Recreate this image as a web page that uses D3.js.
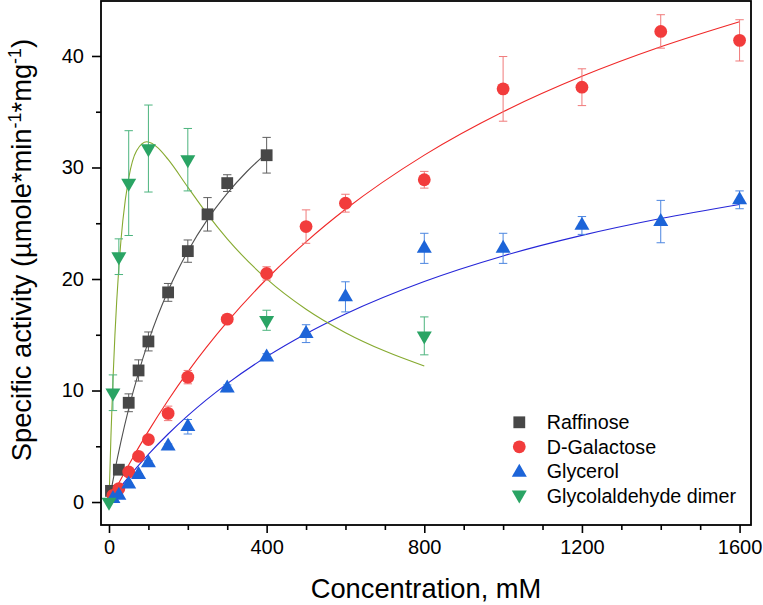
<!DOCTYPE html>
<html>
<head>
<meta charset="utf-8">
<script src="https://cdn.jsdelivr.net/npm/d3@7"></script>
<style>
  html, body { margin: 0; padding: 0; background: #fff; }
  svg { display: block; }
  text { font-family: "Liberation Sans", Arial, sans-serif; fill: #000; }
</style>
</head>
<body>
<svg id="chart" width="763" height="605"></svg>
<script>
// ---- data ----
const seriesNames = ["Raffinose", "D-Galactose", "Glycerol", "Glycolaldehyde dimer"];

const raffinoseConc = [5, 25, 50, 75, 100, 150, 200, 250, 300, 400];
const raffinoseAct  = [1.0, 2.9, 8.9, 11.8, 14.4, 18.8, 22.5, 25.8, 28.6, 31.1];
const raffinoseErr  = [0.2, 0.2, 0.8, 0.95, 0.85, 0.8, 1.0, 1.5, 0.75, 1.6];

const galactoseConc = [10, 25, 50, 75, 100, 150, 200, 300, 400, 500, 600, 800, 1000, 1200, 1400, 1600];
const galactoseAct  = [0.6, 1.2, 2.7, 4.1, 5.6, 7.95, 11.2, 16.4, 20.5, 24.7, 26.8, 28.9, 37.05, 37.2, 42.2, 41.4];
const galactoseErr  = [0.1, 0.2, 0.2, 0.2, 0.3, 0.65, 0.6, 0.3, 0.6, 1.5, 0.8, 0.75, 2.9, 1.65, 1.5, 1.85];

const glycerolConc = [10, 25, 50, 75, 100, 150, 200, 300, 400, 500, 600, 800, 1000, 1200, 1400, 1600];
const glycerolAct  = [0.3, 0.6, 1.6, 2.45, 3.5, 5.0, 6.75, 10.2, 13.0, 15.1, 18.4, 22.75, 22.75, 24.8, 25.15, 27.1];
const glycerolErr  = [0.1, 0.1, 0.1, 0.1, 0.2, 0.2, 0.65, 0.3, 0.3, 0.8, 1.35, 1.35, 1.35, 0.8, 1.9, 0.8];

const glycolConc = [0, 10, 25, 50, 100, 200, 400, 800];
const glycolAct  = [0.0, 9.8, 22.0, 28.6, 31.7, 30.7, 16.3, 14.9];
const glycolErr  = [0, 1.6, 1.6, 4.7, 3.9, 2.8, 0.9, 1.7];

// fitted curves, points
const raffinoseFitX = [5, 15, 30, 50, 75, 100, 150, 200, 250, 300, 350, 400];
const raffinoseFitY = [0.98, 2.84, 5.37, 8.37, 11.61, 14.40, 18.94, 22.49, 25.35, 27.68, 29.64, 31.29];

const galactoseFitX = [10, 25, 50, 100, 150, 200, 300, 400, 500, 600, 800, 1000, 1200, 1400, 1600];
const galactoseFitY = [0.69, 1.71, 3.33, 6.36, 9.13, 11.67, 16.15, 20.0, 23.33, 26.25, 31.11, 35.0, 38.18, 40.83, 43.08];

const glycerolFitX = [10, 25, 50, 100, 150, 200, 300, 400, 500, 600, 800, 1000, 1200, 1400, 1600];
const glycerolFitY = [0.47, 1.16, 2.26, 4.28, 6.10, 7.75, 10.62, 13.04, 15.10, 16.87, 19.78, 22.07, 23.91, 25.42, 26.69];

const glycolFitX = [0, 5, 10, 15, 25, 35, 50, 70, 96, 125, 150, 200, 250, 300, 400, 500, 600, 700, 800];
const glycolFitY = [0, 5.99, 10.90, 14.95, 21.05, 25.20, 29.05, 31.51, 32.31, 31.74, 30.72, 28.24, 25.79, 23.60, 20.01, 17.29, 15.19, 13.54, 12.20];

const xMajorTicks = [0, 400, 800, 1200, 1600];
const xMinorTicks = [100, 200, 300, 500, 600, 700, 900, 1000, 1100, 1300, 1400, 1500];
const yMajorTicks = [0, 10, 20, 30, 40];
const yMinorTicks = [5, 15, 25, 35];

// ---- layout ----
const svg = d3.select("#chart");
const L = 101, R = 751, T = 1, B = 525;
const x = d3.scaleLinear().domain([-20.3, 1629]).range([L, R]);
const y = d3.scaleLinear().domain([-2.06, 44.93]).range([B, T]);

const series = [
  { name: seriesNames[0], cx: raffinoseConc, cy: raffinoseAct, ce: raffinoseErr, fx: raffinoseFitX, fy: raffinoseFitY,
    marker: "#474747", err: "#5e5e5e", line: "#505050", sym: "square" },
  { name: seriesNames[1], cx: galactoseConc, cy: galactoseAct, ce: galactoseErr, fx: galactoseFitX, fy: galactoseFitY,
    marker: "#f23c3c", err: "#f07a7a", line: "#f02828", sym: "circle" },
  { name: seriesNames[2], cx: glycerolConc, cy: glycerolAct, ce: glycerolErr, fx: glycerolFitX, fy: glycerolFitY,
    marker: "#1c64d8", err: "#4c86e0", line: "#2626d8", sym: "up" },
  { name: seriesNames[3], cx: glycolConc, cy: glycolAct, ce: glycolErr, fx: glycolFitX, fy: glycolFitY,
    marker: "#2aa464", err: "#4cb47e", line: "#86aa30", sym: "down" }
];

function drawSym(g, type, cxp, cyp, color) {
  if (type === "square") {
    g.append("rect").attr("x", cxp - 5.9).attr("y", cyp - 5.9).attr("width", 11.8).attr("height", 11.8).attr("fill", color);
  } else if (type === "circle") {
    g.append("circle").attr("cx", cxp).attr("cy", cyp).attr("r", 6.4).attr("fill", color);
  } else {
    const s = 15, h = s * Math.sqrt(3) / 2;
    const dir = type === "up" ? 1 : -1;
    const pts = [[cxp, cyp - dir * h * 2 / 3], [cxp - s / 2, cyp + dir * h / 3], [cxp + s / 2, cyp + dir * h / 3]];
    g.append("path").attr("d", "M" + pts.map(p => p.join(",")).join("L") + "Z").attr("fill", color);
  }
}

const plot = svg.append("g");

// fit lines
const lineGen = d3.line().x(d => x(d[0])).y(d => y(d[1])).curve(d3.curveMonotoneX);
series.forEach(s => {
  plot.append("path")
    .datum(s.fx.map((v, i) => [v, s.fy[i]]))
    .attr("d", lineGen)
    .attr("fill", "none")
    .attr("stroke", s.line)
    .attr("stroke-width", 1.1);
});

// error bars
series.forEach(s => {
  const g = plot.append("g");
  s.cx.forEach((cv, i) => {
    const e = s.ce[i];
    if (!e) return;
    const xp = x(cv), y1 = y(s.cy[i] + e), y2 = y(s.cy[i] - e);
    g.append("line").attr("x1", xp).attr("x2", xp).attr("y1", y1).attr("y2", y2).attr("stroke", s.err).attr("stroke-width", 1);
    g.append("line").attr("x1", xp - 4.2).attr("x2", xp + 4.2).attr("y1", y1).attr("y2", y1).attr("stroke", s.err).attr("stroke-width", 1);
    g.append("line").attr("x1", xp - 4.2).attr("x2", xp + 4.2).attr("y1", y2).attr("y2", y2).attr("stroke", s.err).attr("stroke-width", 1);
  });
});

// markers
series.forEach(s => {
  const g = plot.append("g");
  s.cx.forEach((cv, i) => drawSym(g, s.sym, x(cv), y(s.cy[i]), s.marker));
});

// ---- axes ----
const fontTick = 20;
const xAxisMajor = d3.axisBottom(x).tickValues(xMajorTicks).tickSize(8).tickPadding(7).tickFormat(d3.format("d"));
const xAxisMinor = d3.axisBottom(x).tickValues(xMinorTicks).tickSize(5).tickFormat("");
const yAxisMajor = d3.axisLeft(y).tickValues(yMajorTicks).tickSize(9).tickPadding(8).tickFormat(d3.format("d"));
const yAxisMinor = d3.axisLeft(y).tickValues(yMinorTicks).tickSize(5).tickFormat("");

function styleAxis(g) {
  g.select(".domain").remove();
  g.selectAll(".tick line").attr("stroke", "#000").attr("stroke-width", 1.6);
  g.selectAll(".tick text").attr("font-size", fontTick).attr("font-family", "Liberation Sans, Arial, sans-serif").attr("fill", "#000");
}
svg.append("g").attr("transform", `translate(0,${B})`).call(xAxisMajor).call(styleAxis);
svg.append("g").attr("transform", `translate(0,${B})`).call(xAxisMinor).call(styleAxis);
svg.append("g").attr("transform", `translate(${L},0)`).call(yAxisMajor).call(styleAxis);
svg.append("g").attr("transform", `translate(${L},0)`).call(yAxisMinor).call(styleAxis);

// frame
svg.append("rect").attr("x", L).attr("y", T).attr("width", R - L).attr("height", B - T)
  .attr("fill", "none").attr("stroke", "#000").attr("stroke-width", 1.8);

// axis titles
svg.append("text").attr("x", (L + R) / 2).attr("y", 598).attr("text-anchor", "middle")
  .attr("font-size", 27.3).text("Concentration, mM");

const yt = svg.append("text").attr("transform", "translate(31,250) rotate(-90)")
  .attr("text-anchor", "middle").attr("font-size", 27.3);
yt.append("tspan").text("Specific activity (\u00b5mole*min");
yt.append("tspan").attr("font-size", 18).attr("dy", -10).text("-1");
yt.append("tspan").attr("dy", 10).text("*mg");
yt.append("tspan").attr("font-size", 18).attr("dy", -10).text("-1");
yt.append("tspan").attr("dy", 10).text(")");

// legend
const legX = 519.3, legY0 = 422.3, legDy = 24.5;
series.forEach((s, i) => {
  const g = svg.append("g");
  const yy = legY0 + i * legDy;
  drawSym(g, s.sym, legX, yy + (s.sym === "up" ? 1 : s.sym === "down" ? -1 : 0), s.marker);
  g.append("text").attr("x", 546.7).attr("y", yy).attr("dy", "0.35em").attr("font-size", 19.7).text(s.name);
});
</script>
</body>
</html>
